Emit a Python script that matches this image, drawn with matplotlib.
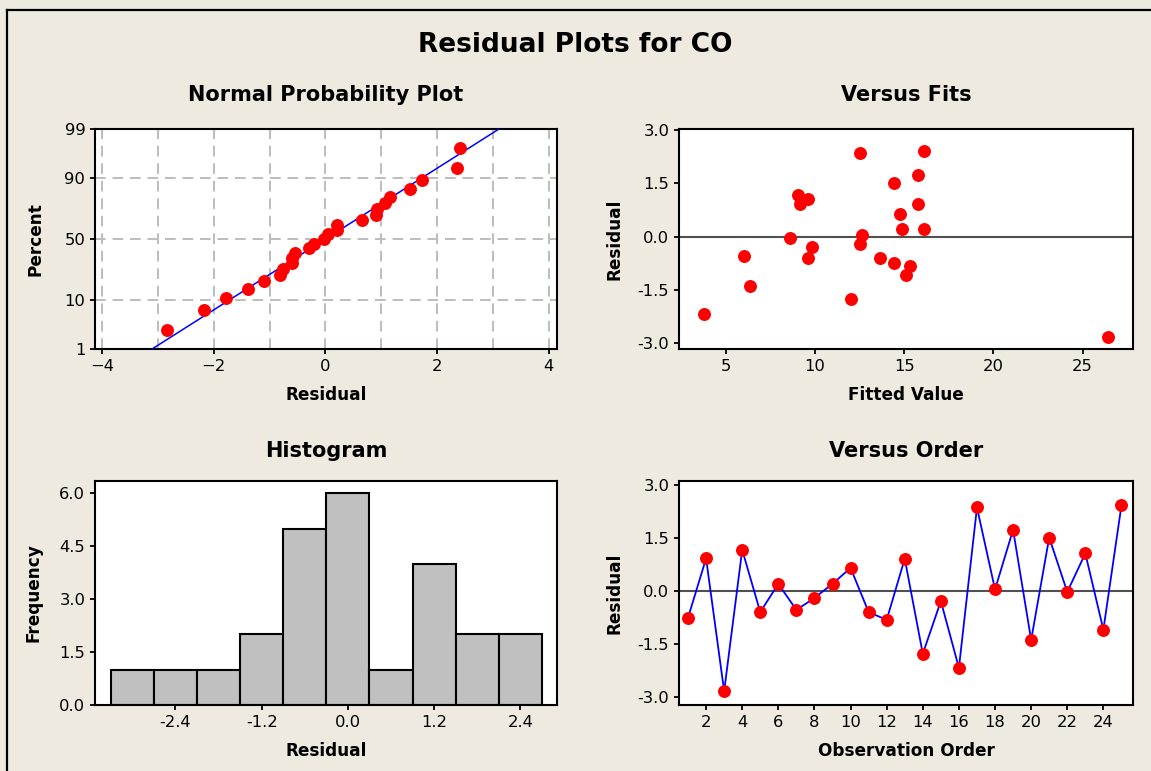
from statistics import NormalDist
import numpy as np
import matplotlib
matplotlib.use('Agg')
import matplotlib.pyplot as plt
from matplotlib.lines import Line2D

# residuals in observation order, and the matching fitted values
order = list(range(1, 26))
residuals = [-0.76, 0.92, -2.84, 1.16, -0.60, 0.20, -0.54, -0.20, 0.20, 0.65,
             -0.60, -0.82, 0.91, -1.78, -0.29, -2.18, 2.36, 0.04, 1.73, -1.39,
             1.51, -0.03, 1.06, -1.10, 2.42]
fits = [14.41, 9.13, 26.43, 9.03, 9.58, 14.88, 6.00, 12.50, 16.08, 14.75,
        13.63, 15.31, 15.78, 12.03, 9.83, 3.75, 12.50, 12.60, 15.76, 6.33,
        14.41, 8.58, 9.62, 15.10, 16.08]
hist_edges = [-3.3, -2.7, -2.1, -1.5, -0.9, -0.3, 0.3, 0.9, 1.5, 2.1, 2.7]

prob_ticks = [1, 10, 50, 90, 99]
resid_ticks = [-3.0, -1.5, 0.0, 1.5, 3.0]
hist_xticks = [-2.4, -1.2, 0.0, 1.2, 2.4]
hist_yticks = [0.0, 1.5, 3.0, 4.5, 6.0]

BG = '#EEEAE0'
plt.rcParams['font.family'] = 'DejaVu Sans'
plt.rcParams['font.size'] = 11.8
plt.rcParams['axes.linewidth'] = 1.5
plt.rcParams['xtick.major.width'] = 1.3
plt.rcParams['ytick.major.width'] = 1.3
plt.rcParams['xtick.major.size'] = 3.5
plt.rcParams['ytick.major.size'] = 3.5

fig = plt.figure(figsize=(11.51, 7.71), dpi=100, facecolor=BG)

W, H = 1151.0, 771.0
def box(x0, y0, x1, y1):
    return [x0 / W, 1 - y1 / H, (x1 - x0) / W, (y1 - y0) / H]

ax1 = fig.add_axes(box(95, 129, 557, 349))
ax2 = fig.add_axes(box(679, 129, 1133, 349))
ax3 = fig.add_axes(box(95, 481, 557, 705))
ax4 = fig.add_axes(box(679, 481, 1133, 705))

# frame lines of the screenshot
fig.add_artist(Line2D([7.5 / W, 1], [1 - 9.5 / H, 1 - 9.5 / H], color='black', lw=1.6, transform=fig.transFigure))
fig.add_artist(Line2D([7.5 / W, 7.5 / W], [0, 1 - 9.5 / H], color='black', lw=1.6, transform=fig.transFigure))

fig.text(0.5, 1 - 45 / H, 'Residual Plots for CO', ha='center', va='center',
         fontsize=19, fontweight='bold')

lab = dict(fontsize=12.2, fontweight='bold')
tit = dict(fontsize=15, fontweight='bold')

# --- normal probability plot ---
nd = NormalDist()
def to_z(p):
    p = np.clip(np.asarray(p, dtype=float) / 100.0, 1e-6, 1 - 1e-6)
    return np.vectorize(nd.inv_cdf, otypes=[float])(p)
def from_z(z):
    return np.vectorize(nd.cdf, otypes=[float])(np.asarray(z, dtype=float)) * 100.0

res = np.array(residuals)
n = len(res)
srt = np.sort(res)
pct = (np.arange(1, n + 1) - 0.3) / (n + 0.4) * 100
mu, sd = res.mean(), res.std(ddof=1)
p_line = np.linspace(0.5, 99.5, 300)
x_line = mu + sd * to_z(p_line)

ax1.set_yscale('function', functions=(to_z, from_z))
ax1.plot(x_line, p_line, color='blue', lw=1.1, zorder=3)
ax1.plot(srt, pct, 'o', color='red', ms=8.3, mec='red', zorder=4)
ax1.set_xlim(-4.13, 4.15)
ax1.set_ylim(1, 99)
ax1.set_yticks(prob_ticks)
ax1.set_yticklabels([str(t) for t in prob_ticks])
ax1.yaxis.set_minor_locator(plt.NullLocator())
ax1.set_xticks([-4, -2, 0, 2, 4])
ax1.set_xticks([-3, -1, 1, 3], minor=True)
ax1.tick_params(axis='x', which='minor', length=0)
ax1.set_axisbelow(True)
gkw = dict(color='#BDBDBD', lw=1.4, ls=(0, (5.5, 3.5)))
ax1.grid(True, axis='x', which='both', **gkw)
ax1.grid(True, axis='y', which='major', **gkw)
ax1.set_title('Normal Probability Plot', pad=20, **tit)
ax1.set_xlabel('Residual', labelpad=9, **lab)
ax1.set_ylabel('Percent', labelpad=14, **lab)

# --- versus fits ---
ax2.axhline(0, color='#505050', lw=1.5, zorder=2)
ax2.plot(fits, residuals, 'o', color='red', ms=8.3, mec='red', zorder=3)
ax2.set_xlim(2.36, 27.83)
ax2.set_ylim(-3.18, 3.04)
ax2.set_xticks([5, 10, 15, 20, 25])
ax2.set_yticks(resid_ticks)
ax2.set_yticklabels(['%.1f' % t for t in resid_ticks])
ax2.set_title('Versus Fits', pad=20, **tit)
ax2.set_xlabel('Fitted Value', labelpad=9, **lab)
ax2.set_ylabel('Residual', labelpad=10, **lab)

# --- histogram ---
ax3.hist(residuals, bins=hist_edges, color='#C0C0C0', edgecolor='black', lw=1.5)
ax3.set_xlim(-3.52, 2.91)
ax3.set_ylim(0, 6.35)
ax3.set_xticks(hist_xticks)
ax3.set_xticklabels(['%.1f' % t for t in hist_xticks])
ax3.set_yticks(hist_yticks)
ax3.set_yticklabels(['%.1f' % t for t in hist_yticks])
ax3.set_title('Histogram', pad=17, **tit)
ax3.set_xlabel('Residual', labelpad=9, **lab)
ax3.set_ylabel('Frequency', labelpad=12, **lab)

# --- versus order ---
ax4.axhline(0, color='#505050', lw=1.5, zorder=2)
ax4.plot(order, residuals, '-', color='blue', lw=1.3, zorder=3)
ax4.plot(order, residuals, 'o', color='red', ms=8.3, mec='red', zorder=4)
ax4.set_xlim(0.5, 25.64)
ax4.set_ylim(-3.23, 3.11)
ax4.set_xticks(list(range(2, 25, 2)))
ax4.set_yticks(resid_ticks)
ax4.set_yticklabels(['%.1f' % t for t in resid_ticks])
ax4.set_title('Versus Order', pad=17, **tit)
ax4.set_xlabel('Observation Order', labelpad=9, **lab)
ax4.set_ylabel('Residual', labelpad=10, **lab)

fig.savefig('out.png', dpi=100, facecolor=BG)
